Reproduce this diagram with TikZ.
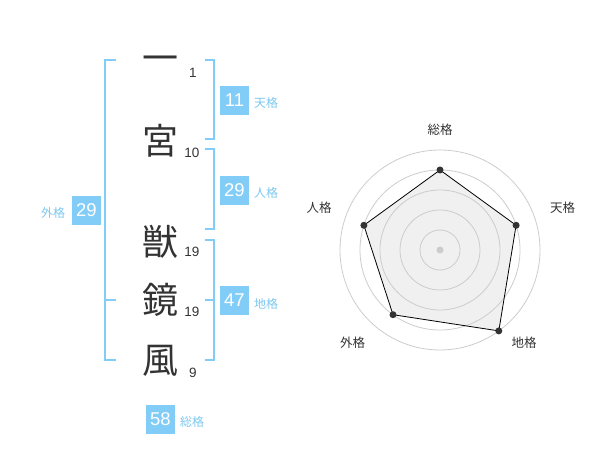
\documentclass[tikz,border=0pt]{standalone}
\usepackage{fontspec}
\setmainfont{Liberation Sans}
\newfontfamily\cjk{Noto Sans CJK JP}
\definecolor{kblue}{RGB}{130,205,248}
\definecolor{klabel}{RGB}{125,200,240}
\definecolor{kdark}{RGB}{51,51,51}
\definecolor{kgrid}{RGB}{204,204,204}
\definecolor{kfill}{RGB}{240,240,240}
\tikzset{
  kanji/.style={font=\cjk\fontsize{36}{36}\selectfont, text=kdark, inner sep=0pt, text height=31.7pt, text depth=4.3pt},
  stroke/.style={font=\fontsize{13.5}{13.5}\selectfont, text=kdark, inner sep=0pt},
  numbox/.style={fill=kblue, text=white, font=\fontsize{18.5}{18.5}\selectfont, minimum width=29pt, minimum height=29pt, inner sep=0pt},
  kaku/.style={font=\cjk\fontsize{12}{12}\selectfont, text=klabel, inner sep=0pt},
  bracket/.style={draw=kblue, line width=2pt},
  axislabel/.style={font=\cjk\fontsize{12.5}{12.5}\selectfont, text=kdark, inner sep=0pt},
  gridc/.style={draw=kgrid, line width=0.8pt},
  dot/.style={circle, fill=kdark, inner sep=0pt, minimum size=7pt},
}
\begin{document}
\begin{tikzpicture}[x=1pt,y=-1pt]
\useasboundingbox (0,0) rectangle (600,470);
% characters
\node[kanji] (c1) at (160,58) {一};
\node[kanji] (c2) at (160,141) {宮};
\node[kanji] (c3) at (160,242) {獣};
\node[kanji] (c4) at (160,300) {鏡};
\node[kanji] (c5) at (160,360) {風};
\node[stroke] (s1) at (193,73) {1};
\node[stroke] (s2) at (192,153) {10};
\node[stroke] (s3) at (192,252) {19};
\node[stroke] (s4) at (192,312) {19};
\node[stroke] (s5) at (193,373) {9};
% brackets
\draw[bracket] (116,60) -- (105,60) -- (105,360) -- (116,360);
\draw[bracket] (105,300) -- (116,300);
\draw[bracket] (205,60) -- (214,60) -- (214,139) -- (205,139);
\draw[bracket] (205,149) -- (214,149) -- (214,229) -- (205,229);
\draw[bracket] (205,240) -- (214,240) -- (214,360) -- (205,360);
\draw[bracket] (205,300) -- (214,300);
% boxes
\node[numbox] (b1) at (234.5,100.5) {11};
\node[kaku] (l1) at (266,103) {天格};
\node[numbox] (b2) at (234.5,190.5) {29};
\node[kaku] (l2) at (266,193) {人格};
\node[numbox] (b3) at (234.5,300.5) {47};
\node[kaku] (l3) at (266,304) {地格};
\node[numbox] (b4) at (86.5,210.5) {29};
\node[kaku] (l4) at (53,213) {外格};
\node[numbox] (b5) at (160.5,419) {58};
\node[kaku] (l5) at (192,422) {総格};
% radar
\coordinate (ctr) at (440,250);
\coordinate (p1) at (440,170);
\coordinate (p2) at (516.1,225.3);
\coordinate (p3) at (498.8,330.9);
\coordinate (p4) at (393.0,314.7);
\coordinate (p5) at (363.9,225.3);
\fill[kfill] (p1) -- (p2) -- (p3) -- (p4) -- (p5) -- cycle;
\foreach \r in {20,40,60,80,100} \draw[gridc] (ctr) circle[radius=\r];
\fill[kgrid] (ctr) circle[radius=3.5];
\draw[black, line width=0.8pt, line join=round] (p1) -- (p2) -- (p3) -- (p4) -- (p5) -- cycle;
\foreach \p in {p1,p2,p3,p4,p5} \node[dot] at (\p) {};
\node[axislabel] (a1) at (440,130) {総格};
\node[axislabel] (a2) at (562.5,208) {天格};
\node[axislabel] (a3) at (524,342.5) {地格};
\node[axislabel] (a4) at (352.5,342.5) {外格};
\node[axislabel] (a5) at (319,208) {人格};
\end{tikzpicture}
\end{document}
